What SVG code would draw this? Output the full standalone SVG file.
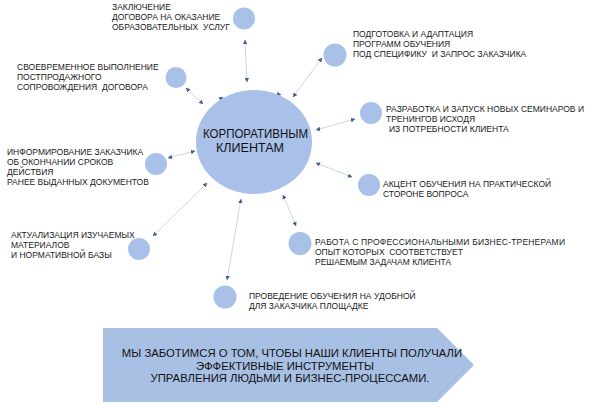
<svg xmlns="http://www.w3.org/2000/svg" width="600" height="404" viewBox="0 0 600 404">
<defs>
<marker id="ah" viewBox="0 0 6 6" refX="5.5" refY="3" markerWidth="4.5" markerHeight="4.5" markerUnits="userSpaceOnUse" orient="auto-start-reverse">
<path d="M0,0 L6,3 L0,6 Z" fill="#3f5f92"/>
</marker>
<style>
.c{fill:#a9c1e8}
.t{font-family:"Liberation Sans",Arial,sans-serif;font-size:8.5px;fill:#1a1a1a}
.m{font-family:"Liberation Sans",Arial,sans-serif;font-size:12px;fill:#111}
.b{font-family:"Liberation Sans",Arial,sans-serif;font-size:11.3px;fill:#111;text-anchor:middle}
.l{stroke:#c3cad8;stroke-width:0.8;fill:none;marker-start:url(#ah);marker-end:url(#ah)}
.s{stroke:none;fill:none;marker-end:url(#ah)}
</style>
</defs>
<rect width="600" height="404" fill="#fff"/>
<g id="connectors">
<path class="l" d="M245,40 L247,82"/>
<path class="l" d="M186,88 L203,104"/>
<path class="l" d="M322,58 L293,97"/>
<path class="l" d="M355,119 L316,130"/>
<path class="l" d="M316,163 L352,177"/>
<path class="l" d="M283,195 L296,226"/>
<path class="l" d="M241,199 L227,280"/>
<path class="l" d="M207,183 L153,236"/>
<path class="l" d="M168,158 L195,151"/>
<path class="s" d="M219,100 L223,97"/>
<path class="s" d="M277,94 L281,95"/>
</g>
<g id="center">
<ellipse class="c" cx="254" cy="142" rx="58" ry="52"/>
<text class="m" x="203" y="138" textLength="105" lengthAdjust="spacingAndGlyphs">КОРПОРАТИВНЫМ</text>
<text class="m" x="216" y="152" textLength="68" lengthAdjust="spacingAndGlyphs">КЛИЕНТАМ</text>
</g>
<g id="n1">
<circle class="c" cx="244" cy="18.5" r="11"/>
<text class="t" x="112" y="9.5">ЗАКЛЮЧЕНИЕ</text>
<text class="t" x="112" y="19.5">ДОГОВОРА НА ОКАЗАНИЕ</text>
<text class="t" x="112" y="29.5" xml:space="preserve">ОБРАЗОВАТЕЛЬНЫХ  УСЛУГ</text>
</g>
<g id="n2">
<circle class="c" cx="176" cy="77.5" r="10.5"/>
<text class="t" x="17" y="69.5">СВОЕВРЕМЕННОЕ ВЫПОЛНЕНИЕ</text>
<text class="t" x="17" y="79.5">ПОСТПРОДАЖНОГО</text>
<text class="t" x="17" y="89.5" xml:space="preserve">СОПРОВОЖДЕНИЯ  ДОГОВОРА</text>
</g>
<g id="n3">
<circle class="c" cx="335" cy="55" r="11.5"/>
<text class="t" x="353" y="37">ПОДГОТОВКА И АДАПТАЦИЯ</text>
<text class="t" x="353" y="47">ПРОГРАММ ОБУЧЕНИЯ</text>
<text class="t" x="353" y="57" xml:space="preserve">ПОД СПЕЦИФИКУ  И ЗАПРОС ЗАКАЗЧИКА</text>
</g>
<g id="n4">
<circle class="c" cx="371" cy="113" r="11"/>
<text class="t" x="386" y="112">РАЗРАБОТКА И ЗАПУСК НОВЫХ СЕМИНАРОВ И</text>
<text class="t" x="386" y="122">ТРЕНИНГОВ ИСХОДЯ</text>
<text class="t" x="389" y="132">ИЗ ПОТРЕБНОСТИ КЛИЕНТА</text>
</g>
<g id="n5">
<circle class="c" cx="369" cy="185" r="11"/>
<text class="t" x="383" y="187">АКЦЕНТ ОБУЧЕНИЯ НА ПРАКТИЧЕСКОЙ</text>
<text class="t" x="383" y="197">СТОРОНЕ ВОПРОСА</text>
</g>
<g id="n6">
<circle class="c" cx="300" cy="243.5" r="11.5"/>
<text class="t" x="315" y="245" textLength="250">РАБОТА С ПРОФЕССИОНАЛЬНЫМИ БИЗНЕС-ТРЕНЕРАМИ</text>
<text class="t" x="315" y="255" xml:space="preserve">ОПЫТ КОТОРЫХ  СООТВЕТСТВУЕТ</text>
<text class="t" x="315" y="265">РЕШАЕМЫМ ЗАДАЧАМ КЛИЕНТА</text>
</g>
<g id="n7">
<circle class="c" cx="225" cy="297" r="11.5"/>
<text class="t" x="249" y="299">ПРОВЕДЕНИЕ ОБУЧЕНИЯ НА УДОБНОЙ</text>
<text class="t" x="249" y="309">ДЛЯ ЗАКАЗЧИКА ПЛОЩАДКЕ</text>
</g>
<g id="n8">
<circle class="c" cx="139" cy="249" r="11"/>
<text class="t" x="11" y="237.5">АКТУАЛИЗАЦИЯ ИЗУЧАЕМЫХ</text>
<text class="t" x="11" y="247.5">МАТЕРИАЛОВ</text>
<text class="t" x="11" y="257.5">И НОРМАТИВНОЙ БАЗЫ</text>
</g>
<g id="n9">
<circle class="c" cx="156" cy="164" r="11"/>
<text class="t" x="7" y="155">ИНФОРМИРОВАНИЕ ЗАКАЗЧИКА</text>
<text class="t" x="7" y="165">ОБ ОКОНЧАНИИ СРОКОВ</text>
<text class="t" x="7" y="175">ДЕЙСТВИЯ</text>
<text class="t" x="7" y="185">РАНЕЕ ВЫДАННЫХ ДОКУМЕНТОВ</text>
</g>
<g id="banner">
<polygon points="103,328 437,328 474,365 437,402 103,402" fill="#a9c0e5"/>
<text class="b" x="292" y="357">МЫ ЗАБОТИМСЯ О ТОМ, ЧТОБЫ НАШИ КЛИЕНТЫ ПОЛУЧАЛИ</text>
<text class="b" x="285" y="370">ЭФФЕКТИВНЫЕ ИНСТРУМЕНТЫ</text>
<text class="b" x="290" y="382">УПРАВЛЕНИЯ ЛЮДЬМИ И БИЗНЕС-ПРОЦЕССАМИ.</text>
</g>
</svg>
